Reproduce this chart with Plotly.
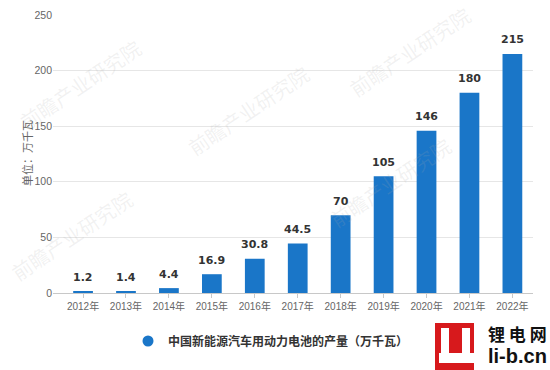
import plotly.graph_objects as go

categories = ["2012年", "2013年", "2014年", "2015年", "2016年", "2017年",
              "2018年", "2019年", "2020年", "2021年", "2022年"]
values = [1.2, 1.4, 4.4, 16.9, 30.8, 44.5, 70, 105, 146, 180, 215]
value_labels = ["1.2", "1.4", "4.4", "16.9", "30.8", "44.5", "70", "105", "146", "180", "215"]
series_name = "中国新能源汽车用动力电池的产量（万千瓦）"
y_title = "单位：万千瓦"
y_ticks = [0, 50, 100, 150, 200, 250]

BLUE = "#1A76C8"
W, H = 550, 370
L, R, T, B = 53, 17, 15, 77
PW, PH = W - L - R, H - T - B


def px_x(px):
    return (px - L) / PW


def px_y(py):
    return (H - B - py) / PH


fig = go.Figure()
fig.add_trace(go.Bar(
    x=list(range(len(categories))), y=values, name=series_name,
    marker=dict(color=BLUE, line=dict(width=0)), width=0.46,
    showlegend=False, hoverinfo="y",
))
fig.add_trace(go.Scatter(
    x=[None], y=[None], mode="markers", name=series_name,
    marker=dict(symbol="circle", size=11, color=BLUE), showlegend=True,
))

annotations = []

# faint watermarks (drawn first so other texts sit on top)
wm_font = dict(family="Noto Sans CJK SC", size=20, color="rgba(170,170,170,0.16)")
for cx, cy in [(80, 84), (72, 236), (248, 110), (390, 182), (410, 52)]:
    annotations.append(dict(
        x=px_x(cx), y=px_y(cy), xref="paper", yref="paper", text="前瞻产业研究院",
        showarrow=False, textangle=-34, xanchor="center", yanchor="middle",
        font=wm_font,
    ))

for i, (v, t) in enumerate(zip(values, value_labels)):
    annotations.append(dict(
        x=i, y=v, xref="x", yref="y", text=t, showarrow=False,
        yanchor="middle", yshift=14,
        font=dict(family="DejaVu Sans", size=11, color="#333333", weight="bold"),
    ))

# y axis title
annotations.append(dict(
    x=px_x(27), y=px_y(153), xref="paper", yref="paper", text=y_title,
    showarrow=False, textangle=-90, xanchor="center", yanchor="middle",
    font=dict(family="Noto Sans CJK SC", size=11, color="#666666"),
))

# logo texts
annotations.append(dict(
    x=px_x(517), y=px_y(333), xref="paper", yref="paper", text="锂 电 网",
    showarrow=False, xanchor="center", yanchor="middle",
    font=dict(family="Noto Sans CJK SC", size=17, color="#111111", weight="bold"),
))
annotations.append(dict(
    x=px_x(517), y=px_y(356), xref="paper", yref="paper", text="li-b.cn",
    showarrow=False, xanchor="center", yanchor="middle",
    font=dict(family="Liberation Sans", size=20, color="#111111", weight="bold"),
))

shapes = [
    dict(type="rect", xref="paper", yref="paper",
         x0=px_x(435), x1=px_x(474), y0=px_y(372), y1=px_y(323),
         fillcolor="#D7191C", line=dict(width=0), layer="above"),
    dict(type="rect", xref="paper", yref="paper",
         x0=px_x(441), x1=px_x(449), y0=px_y(353), y1=px_y(328),
         fillcolor="white", line=dict(width=0), layer="above"),
    dict(type="rect", xref="paper", yref="paper",
         x0=px_x(462), x1=px_x(470), y0=px_y(353), y1=px_y(328),
         fillcolor="white", line=dict(width=0), layer="above"),
    dict(type="rect", xref="paper", yref="paper",
         x0=px_x(439), x1=px_x(474), y0=px_y(363), y1=px_y(353),
         fillcolor="white", line=dict(width=0), layer="above"),
]

fig.update_layout(
    width=W, height=H,
    margin=dict(l=L, r=R, t=T, b=B, pad=0, autoexpand=False),
    paper_bgcolor="white", plot_bgcolor="white",
    font=dict(family="Liberation Sans, Noto Sans CJK SC", color="#666666"),
    bargap=0.5,
    xaxis=dict(
        range=[-0.7, 10.48], tickmode="array",
        tickvals=list(range(len(categories))), ticktext=categories,
        showgrid=False, zeroline=False,
        showline=True, linecolor="#C8C8C8", linewidth=1,
        ticks="outside", ticklen=4, tickcolor="#C8C8C8",
        tickfont=dict(family="Liberation Sans, Noto Sans CJK SC", size=10, color="#666666"),
        fixedrange=True, automargin=False,
    ),
    yaxis=dict(
        range=[0, 250], tickvals=y_ticks,
        showgrid=True, gridcolor="#E6E6E6", gridwidth=1,
        zeroline=False, showline=False, ticks="",
        tickfont=dict(family="Liberation Sans", size=10.5, color="#666666"),
        fixedrange=True, automargin=False,
    ),
    legend=dict(
        orientation="h", x=px_x(128), y=px_y(341), xanchor="left", yanchor="middle",
        itemwidth=30, bgcolor="rgba(0,0,0,0)",
        font=dict(family="Noto Sans CJK SC", size=12, color="#333333", weight="bold"),
    ),
    annotations=annotations,
    shapes=shapes,
    showlegend=True,
)

fig.write_html("out.html", config={"displayModeBar": False})

# remove the browser's default page margin so the figure sits at the window's corner
with open("out.html", "r", encoding="utf-8") as f:
    html = f.read()
html = html.replace("<head>", "<head><style>html,body{margin:0;padding:0;}</style>", 1)
with open("out.html", "w", encoding="utf-8") as f:
    f.write(html)
